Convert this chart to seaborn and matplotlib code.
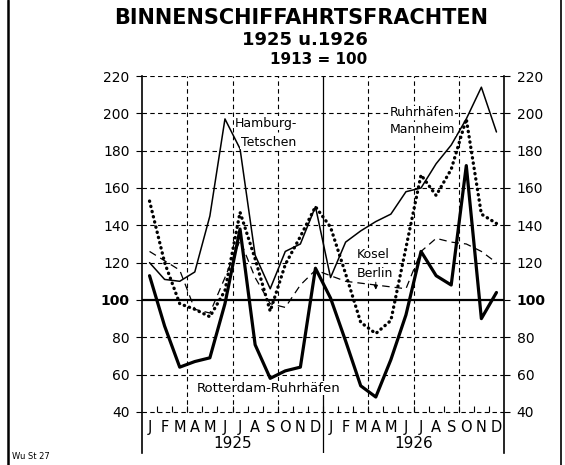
import numpy as np
import pandas as pd
import seaborn as sns
import matplotlib.pyplot as plt
from matplotlib.lines import Line2D

# month labels and years
months = list("JFMAMJJASOND") * 2
years = ["1925", "1926"]
y_ticks = [40, 60, 80, 100, 120, 140, 160, 180, 200, 220]

# index values, 1913 = 100 (Jan 1925 .. Dec 1926)
hamburg = [120, 111, 110, 115, 145, 197, 181, 124, 106, 126, 130, 150,
           112, 131, 137, 142, 146, 158, 160, 173, 183, 197, 214, 190]
mannheim = [153, 120, 98, 95, 91, 105, 147, 122, 94, 119, 134, 150,
            139, 114, 88, 82, 89, 128, 167, 156, 170, 197, 146, 141]
kosel = [126, 121, 116, 95, 93, 112, 132, 112, 98, 96, 108, 116,
         113, 110, 109, 108, 107, 106, 126, 133, 131, 130, 126, 120]
rotterdam = [113, 86, 64, 67, 69, 98, 138, 76, 58, 62, 64, 117,
             101, 78, 54, 48, 68, 92, 126, 113, 108, 172, 90, 104]

pos = np.arange(len(months)) + 0.5
df = pd.DataFrame({"pos": pos, "hamburg": hamburg, "mannheim": mannheim,
                   "kosel": kosel, "rotterdam": rotterdam})

sns.set_style("white")
plt.rcParams["font.family"] = ["DejaVu Sans"]
plt.rcParams["text.color"] = "black"
plt.rcParams["ytick.color"] = "black"
plt.rcParams["xtick.color"] = "black"

fig = plt.figure(figsize=(5.65, 4.65), dpi=100)
ax = fig.add_axes([142 / 565, 1 - 453 / 465, 362 / 565, 377 / 465])
ax.set_xlim(0, 24)
ax.set_ylim(18, 220)

# grid
for v in y_ticks:
    if v == 100:
        ax.axhline(v, color="black", lw=1.6, zorder=1)
    else:
        ax.axhline(v, color="black", lw=0.8, ls=(0, (4, 3)), zorder=1)
for b in [3, 6, 9, 15, 18, 21]:
    ax.vlines(b, 40, 220, color="black", lw=0.8, ls=(0, (4, 3)), zorder=1)
ax.axvline(12, color="black", lw=0.9, zorder=1)
ax.vlines(np.arange(1, 24), 40, 43, color="black", lw=0.8, zorder=1)

# series
sns.lineplot(data=df, x="pos", y="hamburg", ax=ax, color="black", lw=1.1)
sns.lineplot(data=df, x="pos", y="kosel", ax=ax, color="black", lw=0.9,
             linestyle=(0, (6, 4)))
sns.lineplot(data=df, x="pos", y="mannheim", ax=ax, color="black", lw=2.4,
             linestyle=(0, (0.1, 1.5)), dash_capstyle="round")
sns.lineplot(data=df, x="pos", y="rotterdam", ax=ax, color="black", lw=2.3)

# axes
ax.set_xlabel("")
ax.set_ylabel("")
ax.set_xticks([])
ax.set_yticks(y_ticks)
ax.tick_params(axis="y", left=True, right=True, labelleft=True, labelright=True,
               length=4, width=0.8, pad=5, labelsize=10, colors="black")
for lab in ax.get_yticklabels():
    if lab.get_text() == "100":
        lab.set_fontweight("bold")
for side in ["top", "bottom"]:
    ax.spines[side].set_visible(False)
for side in ["left", "right"]:
    ax.spines[side].set_color("black")
    ax.spines[side].set_linewidth(1.2)

for i, m in enumerate(months):
    ax.text(pos[i], 31.4, m, ha="center", va="center", fontsize=10.5)
ax.text(6, 22.9, years[0], ha="center", va="center", fontsize=11)
ax.text(18, 22.9, years[1], ha="center", va="center", fontsize=11)

# labels
box = dict(facecolor="white", edgecolor="none", pad=0.5)
ax.text(6.17, 194.8, "Hamburg-", fontsize=9, va="center", bbox=box)
ax.text(6.56, 184.6, "Tetschen", fontsize=9, va="center", bbox=box)
ax.text(16.44, 200.2, "Ruhrhäfen", fontsize=9, va="center", bbox=box)
ax.text(16.44, 191.6, "Mannheim", fontsize=9, va="center", bbox=box)
ax.text(14.25, 124.1, "Kosel", fontsize=9, va="center", bbox=box)
ax.text(14.25, 114.4, "Berlin", fontsize=9, va="center", bbox=box)
ax.annotate("", xy=(15.5, 104), xytext=(15.5, 111),
            arrowprops=dict(arrowstyle="-|>", color="black", lw=0.7,
                            mutation_scale=6))
ax.text(3.65, 52.8, "Rotterdam-Ruhrhäfen", fontsize=9.5, va="center", bbox=box)

# titles
fig.text(301 / 565, 1 - 18 / 465, "BINNENSCHIFFAHRTSFRACHTEN", ha="center",
         va="center", fontsize=15, fontweight="bold")
fig.text(305 / 565, 1 - 40 / 465, "1925 u.1926", ha="center", va="center",
         fontsize=13, fontweight="bold")
fig.text(319 / 565, 1 - 59 / 465, "1913 = 100", ha="center", va="center",
         fontsize=11, fontweight="bold")
fig.text(12 / 565, 1 - 456 / 465, "Wu St 27", fontsize=6, va="center")

fig.add_artist(Line2D([8 / 565, 8 / 565], [0, 1], color="black", lw=1.8))
fig.add_artist(Line2D([561 / 565, 561 / 565], [0, 1], color="black", lw=1.2))

fig.savefig("out.png", dpi=100)
